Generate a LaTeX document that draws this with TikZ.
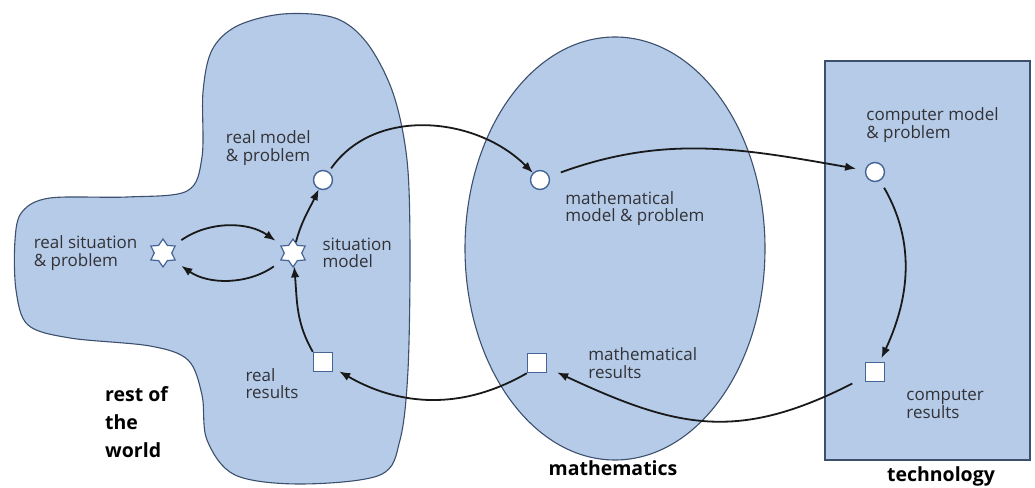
\documentclass[tikz,border=0pt]{standalone}
\usepackage{fontspec}
\setmainfont{Open Sans}
\usetikzlibrary{arrows.meta, positioning, shapes.geometric}

\definecolor{regionfill}{RGB}{181,203,232}
\definecolor{regionline}{RGB}{60,80,110}
\definecolor{markline}{RGB}{70,100,150}
\definecolor{labeltext}{RGB}{50,50,55}

\begin{document}
\begin{tikzpicture}[x=1pt, y=1pt, >={Latex[length=11pt,width=8.5pt]},
    region/.style={draw=regionline, fill=regionfill, line width=1.1pt},
    situation/.style={star, star points=6, star point ratio=1.6, minimum size=28pt, inner sep=0pt, draw=markline, fill=white, line width=1.2pt},
    model/.style={circle, minimum size=19pt, inner sep=0pt, draw=markline, fill=white, line width=1.4pt},
    result/.style={rectangle, minimum size=19pt, inner sep=0pt, draw=markline, fill=white, line width=1.4pt},
    lbl/.style={inner sep=0pt, align=left, text=labeltext, font=\fontsize{17}{17.5}\selectfont},
    world/.style={inner sep=0pt, align=left, font=\bfseries\fontsize{19.5}{28}\selectfont},
    flow/.style={->, line width=1.8pt, draw=black!90}]

            \useasboundingbox (0,0) rectangle (1035,487);

            % Regions
            \draw[region] plot[smooth cycle, tension=0.55] coordinates {
                (202,330) (203,395) (212,437) (237,461) (283,473) (335,469) (367,444) (393,394)
                (407,327) (410,237) (408,117) (400,47) (380,12) (300,3) (235,12)
                (207,47) (202,92) (188,127) (150,141) (70,149) (28,162) (16,197)
                (15,247) (22,275) (50,289) (127,290) (187,296)};
            \draw[region] (615,238.5) ellipse [x radius=150pt, y radius=211.5pt];
            \draw[region] (825,27) rectangle (1030,426);

            % Markers
            \node[situation] (rsit) at (163,234) {};
            \node[situation] (smod) at (293,234) {};
            \node[model] (rmod) at (323,307) {};
            \node[result] (rres) at (323,125) {};
            \node[model] (mmod) at (540,307) {};
            \node[result] (mres) at (537,124) {};
            \node[model] (cmod) at (875,315) {};
            \node[result] (cres) at (875,115) {};

            % Labels
            \node[lbl, above left=7pt and 5pt of rmod] (rmodtxt) {real model\\\& problem};
            \node[lbl, left=16pt of rsit] (rsittxt) {real situation\\\& problem};
            \node[lbl, right=20pt of smod] (smodtxt) {situation\\model};
            \node[lbl, below left=-4pt and 14pt of rres] (rrestxt) {real\\results};
            \node[lbl, below right=4pt and 18pt of mmod] (mmodtxt) {mathematical\\model \& problem};
            \node[lbl, right=41pt of mres] (mrestxt) {mathematical\\results};
            \node[lbl, above right=22pt and -16pt of cmod] (cmodtxt) {computer model\\\& problem};
            \node[lbl, below right=7pt and 21pt of cres] (crestxt) {computer\\results};

            % Region names
            \node[world, anchor=north west] (worldtxt) at (105,101) {rest of\\the\\world};
            \node[world, anchor=north] (mathtxt) at (613,27) {mathematics};
            \node[world, anchor=south] (techtxt) at (941,1) {technology};

            % Arrows
            \draw[flow, shorten <=9pt, shorten >=8pt] (rsit) to[out=35,in=145] (smod);
            \draw[flow, shorten <=10pt, shorten >=9pt] (smod) to[out=-145,in=-35] (rsit);
            \draw[flow] (smod) to[out=75,in=-115] (rmod);
            \draw[flow] (rres.north west) to[out=120,in=-85] (smod);
            \draw[flow, shorten <=4pt] (rmod) to[out=55,in=135] (mmod);
            \draw[flow, shorten <=12pt, shorten >=9pt] (mmod) to[out=20,in=170] (cmod);
            \draw[flow, shorten <=8pt, shorten >=4pt] (cmod) to[out=-60,in=65] (cres);
            \draw[flow, shorten <=14pt, shorten >=11pt] (cres) to[out=-153,in=-25, looseness=1.15] (mres);
            \draw[flow, shorten >=7pt] (mres.south west) to[out=-150,in=-30] (rres);

        \end{tikzpicture}
\end{document}
